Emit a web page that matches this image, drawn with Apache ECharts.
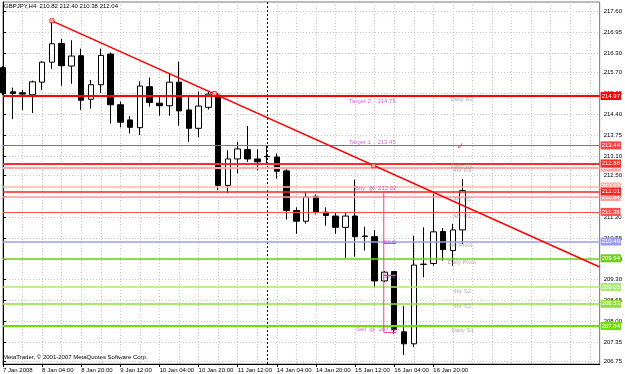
<!DOCTYPE html>
<html><head><meta charset="utf-8">
<script src="https://cdn.jsdelivr.net/npm/echarts@6/dist/echarts.min.js"></script>
<style>html,body{margin:0;padding:0;background:#fff}#c{width:625px;height:374px}</style>
</head><body><div id="c"></div>
<script>
const symbolName = 'GBPJPY,H4';
const categories = [
 '7 Jan 12:00','7 Jan 16:00','7 Jan 20:00','8 Jan 00:00','8 Jan 04:00','8 Jan 08:00','8 Jan 12:00','8 Jan 16:00',
 '8 Jan 20:00','9 Jan 00:00','9 Jan 04:00','9 Jan 08:00','9 Jan 12:00','9 Jan 16:00','9 Jan 20:00','10 Jan 00:00',
 '10 Jan 04:00','10 Jan 08:00','10 Jan 12:00','10 Jan 16:00','10 Jan 20:00','11 Jan 00:00','11 Jan 04:00','11 Jan 08:00',
 '11 Jan 12:00','11 Jan 16:00','11 Jan 20:00','14 Jan 00:00','14 Jan 04:00','14 Jan 08:00','14 Jan 12:00','14 Jan 16:00',
 '14 Jan 20:00','15 Jan 00:00','15 Jan 04:00','15 Jan 08:00','15 Jan 12:00','15 Jan 16:00','15 Jan 20:00','16 Jan 00:00',
 '16 Jan 04:00','16 Jan 08:00','16 Jan 12:00','16 Jan 16:00','16 Jan 20:00','17 Jan 00:00','17 Jan 04:00','17 Jan 08:00',
 '17 Jan 12:00','17 Jan 16:00','17 Jan 20:00','18 Jan 00:00','18 Jan 04:00','18 Jan 08:00','18 Jan 12:00','18 Jan 16:00',
 '18 Jan 20:00','21 Jan 00:00','21 Jan 04:00','21 Jan 08:00','21 Jan 12:00','21 Jan 16:00'
];
const opens  = [215.85,215.10,215.07,215.01,215.40,216.02,216.60,215.90,216.22,214.87,215.32,216.27,214.70,214.23,213.99,215.26,
                214.75,214.67,215.40,214.54,213.97,214.62,215.00,212.20,213.02,213.31,213.02,213.10,213.08,212.65,211.42,211.09,
                211.86,211.37,211.25,210.90,211.25,210.63,210.61,209.24,209.53,207.66,207.29,209.75,209.78,210.77,210.18,210.82];
const closes = [215.07,215.05,215.03,215.41,216.02,216.59,215.91,216.21,214.84,215.32,216.23,214.70,214.16,214.00,215.28,214.77,
                214.67,215.40,214.51,213.97,214.66,215.03,212.20,213.02,213.33,213.02,212.93,213.09,212.64,211.42,211.09,211.84,
                211.37,211.27,210.90,211.25,210.61,210.62,209.24,209.51,207.74,207.29,209.73,209.76,210.76,210.21,210.82,212.04];
const lows   = [215.00,214.26,214.54,214.44,215.16,215.81,215.29,215.35,214.54,214.58,215.06,214.12,214.00,213.81,213.76,214.64,
                214.36,214.36,214.05,213.55,213.69,214.55,212.05,211.96,212.57,212.93,212.67,212.86,212.41,211.14,210.70,211.01,
                211.30,210.95,210.70,209.95,209.99,210.18,209.03,209.20,207.60,206.94,207.19,209.35,209.71,209.87,209.71,210.38];
const highs  = [215.90,215.23,215.16,215.45,216.05,217.32,216.74,216.70,216.44,215.47,216.44,216.32,214.80,214.35,215.42,215.54,
                214.95,215.68,216.04,214.95,215.11,215.10,215.06,213.29,213.55,214.04,213.32,213.45,213.19,212.72,211.52,211.99,
                211.92,211.52,211.37,211.37,212.38,210.92,210.82,209.55,209.55,208.46,210.64,210.90,211.94,210.88,211.01,212.40];
const yTicks = [206.75,207.35,208.00,208.65,209.30,209.90,210.55,211.20,211.85,212.50,213.10,213.75,214.40,215.05,215.70,216.30,216.95,217.60];
const xLabelIdx = [0,4,8,12,16,20,24,28,32,36,40,44];
const firstLabel = '7 Jan 2008';
const separatorIdx = 27;
// horizontal levels (drawing order)
const levelValues = [214.97,213.44,212.75,212.88,212.17,211.84,212.01,211.38,210.46,209.94,209.05,208.53,207.84];
const levelColors = ['#ff0000','#ff4040','#ffaaaa','#ff2a2a','#ffb8a8','#ff9c9c','#ff2020','#ff5050','#9c9cf0','#6cd018','#a8ec70','#8ee038','#6ee000'];
const levelWidths = [2,1,2,2,1.5,1.5,1.5,1,1.5,1.5,1.5,1.5,2];
// trend line
const trendPts = [[5,217.30],[61,209.67]];
const trendAnchors = [[5,217.30],[21.6,215.05],[37.9,212.81]];
// fibonacci
const fibX = [38.93, 40.2];
const fibLevels = [212.02, 210.42, 209.42, 207.65];
// annotations [x index, price, text]
const annoMagenta = [
 [35.38,214.82,'Target 2    214.75'],
 [35.38,213.55,'Target 1    213.45'],
 [35.99,212.12,'Buy  @  212.02'],
 [38.94,210.43,'61.8'],
 [38.94,209.39,'38.2'],
 [36.09,207.75,'Sell  @  207.82']
];
const annoGray = [
 [45.75,214.88,'Daily R2'],
 [45.75,212.79,'Daily R1'],
 [46.05,212.68,'4hr R3'],
 [46.05,211.76,'4hr R2'],
 [46.05,211.25,'4hr R1'],
 [45.55,210.34,'4hr Pivot'],
 [45.45,209.83,'Daily Pivot'],
 [46.05,208.93,'4hr S2'],
 [46.05,208.44,'4hr S3'],
 [45.85,207.72,'Daily S1']
];
const checkMark = [[46.4,213.39,'\u2713']];

const FONT = 'Liberation Sans, Arial, sans-serif';
const last = opens.length - 1;
const candleData = opens.map((o,i)=>[o, closes[i], lows[i], highs[i]]);

const chart = echarts.init(document.getElementById('c'), null, {renderer:'canvas'});
const textSeries = (arr, color, size, fam) => ({
  type:'scatter', xAxisIndex:1, yAxisIndex:0, symbolSize:0, silent:true, z:8,
  data: arr,
  label:{show:true, position:'right', distance:0, formatter:p=>p.data[2], color:color, fontSize:size, fontFamily:fam||FONT}
});
chart.setOption({
  animation:false,
  backgroundColor:'#ffffff',
  textStyle:{fontFamily:FONT},
  grid:{left:2, right:23, top:2, bottom:10, show:true, borderColor:'#777', borderWidth:1, backgroundColor:'transparent'},
  xAxis:[{
    type:'category', data:categories, boundaryGap:false,
    axisLine:{show:true, lineStyle:{color:'#000', width:1}},
    axisTick:{show:true, length:3, interval:(i)=>xLabelIdx.includes(i), lineStyle:{color:'#000'}},
    axisLabel:{interval:(i)=>xLabelIdx.includes(i), formatter:(v,i)=> i===0?firstLabel:v, align:'left', fontSize:6, color:'#000', margin:3, fontFamily:FONT, showMinLabel:true},
    splitLine:{show:true, interval:(i)=>i%2===0, lineStyle:{color:'#d4c4c4', type:[1,2], width:1}}
  },{
    type:'value', min:0, max:categories.length-1, show:false
  }],
  yAxis:[{
    type:'value', position:'right', min:206.664, max:217.885,
    axisLine:{show:true, lineStyle:{color:'#000'}},
    axisTick:{show:true, length:3, customValues:yTicks, lineStyle:{color:'#000'}},
    axisLabel:{customValues:yTicks, fontSize:6, color:'#000', margin:4, fontFamily:FONT, formatter:v=>v.toFixed(2)},
    splitLine:{show:true, lineStyle:{color:'#d4c4c4', type:[1,2], width:1}}
  }],
  graphic:[
    {type:'text', left:4, top:3, style:{text:symbolName+'  '+opens[last].toFixed(2)+' '+highs[last].toFixed(2)+' '+lows[last].toFixed(2)+' '+closes[last].toFixed(2), fontSize:6, fill:'#000', fontFamily:FONT}},
    {type:'text', left:3, top:354, style:{text:'MetaTrader, \u00a9 2001-2007 MetaQuotes Software Corp.', fontSize:6, fill:'#000', fontFamily:FONT}}
  ],
  series:[
    {
      type:'line', xAxisIndex:1, data:[[0,null]], silent:true, z:1, symbol:'none',
      markLine:{silent:true, symbol:'none', animation:false,
        data:[{xAxis:separatorIdx, lineStyle:{color:'#000', type:[2,2], width:1}, label:{show:false}}]}
    },
    {
      type:'candlestick', xAxisIndex:0, data:candleData, barWidth:6, z:3, silent:true,
      itemStyle:{color:'#ffffff', color0:'#000000', borderColor:'#000000', borderColor0:'#000000', borderWidth:1}
    },
    {
      type:'line', xAxisIndex:1, data:trendPts, symbol:'none', z:6, silent:true,
      lineStyle:{color:'#ff0000', width:1.6},
      markLine:{silent:true, symbol:'none', animation:false,
        data: levelValues.map((v,i)=>({
          yAxis:v,
          lineStyle:{color:levelColors[i], width:levelWidths[i], type:'solid'},
          label:{show:true, position:'end', distance:1, formatter:v.toFixed(2), fontSize:6, color:'#ffffff',
                 backgroundColor:levelColors[i], padding:[1,1,1,1], fontFamily:FONT}
        }))}
    },
    {
      type:'line', xAxisIndex:1, data:[[fibX[0],fibLevels[0]],[fibX[0],fibLevels[3]]], symbol:'none', z:7, silent:true,
      lineStyle:{color:'#ee4488', width:1},
      markLine:{silent:true, symbol:'none', animation:false,
        data: fibLevels.map(v=>[{coord:[fibX[0],v], lineStyle:{color:'#ee4488', width:1, type:'solid'}, label:{show:false}},{coord:[fibX[1],v]}])}
    },
    {
      type:'scatter', xAxisIndex:1, data:trendAnchors, symbol:'rect', symbolSize:4, z:9, silent:true,
      itemStyle:{color:'#ffd0d0', borderColor:'#ff0000', borderWidth:1}
    },
    textSeries(annoMagenta, '#d040c8', 6),
    textSeries(annoGray, '#9a9a9a', 6),
    textSeries(checkMark, '#ff0000', 9, 'DejaVu Sans')
  ]
});
</script></body></html>
